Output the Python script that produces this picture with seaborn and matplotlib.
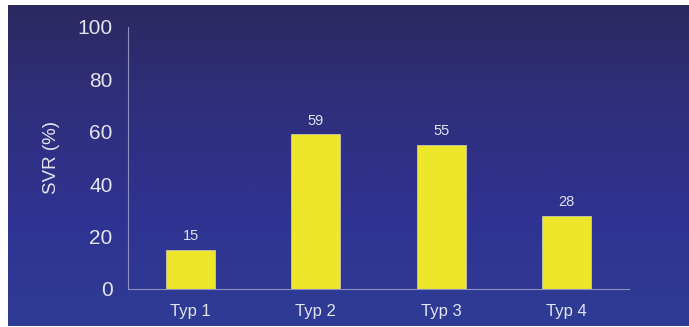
import numpy as np
import pandas as pd
import matplotlib
matplotlib.use("Agg")
import matplotlib.pyplot as plt
from matplotlib.colors import LinearSegmentedColormap
import seaborn as sns

categories = ["Typ 1", "Typ 2", "Typ 3", "Typ 4"]
svr_values = [15, 59, 55, 28]
y_ticks = [0, 20, 40, 60, 80, 100]

df = pd.DataFrame({"Typ": categories, "SVR": svr_values})

sns.set_theme(style="white")
plt.rcParams["font.family"] = ["Liberation Sans", "DejaVu Sans"]

W, H = 689, 327
fig = plt.figure(figsize=(W / 100, H / 100), dpi=100)
fig.patch.set_facecolor("white")

# Gradient backdrop: dark navy at the top, brighter blue toward the bottom
bg = fig.add_axes([8 / W, 1 / H, 1 - 8 / W, 1 - 6 / H])
grad_cmap = LinearSegmentedColormap.from_list(
    "slide", ["#2c2960", "#2f2f7e", "#2f3391", "#2e3c95"]
)
bg.imshow(np.linspace(0, 1, 256).reshape(-1, 1), aspect="auto", cmap=grad_cmap,
          extent=[0, 1, 1, 0])
bg.set_axis_off()

ax = fig.add_axes([128 / W, 1 - 289 / H, (629 - 128) / W, (289 - 27) / H])
ax.patch.set_alpha(0)

sns.barplot(data=df, x="Typ", y="SVR", ax=ax, color="#ede62a", width=0.39,
            saturation=1, edgecolor="#c8c8b0", linewidth=0.6)

for i, v in enumerate(svr_values):
    ax.text(i, v + 2.6, f"{v}", ha="center", va="bottom", fontsize=10.5,
            color="#e2e2ec")

ax.set_ylim(0, 100)
ax.set_xlim(-0.5, len(categories) - 0.5)
ax.set_yticks(y_ticks)
ax.set_yticklabels([str(t) for t in y_ticks], fontsize=15, color="#e4e4ee")
ax.set_xticks(range(len(categories)))
ax.set_xticklabels(categories, fontsize=12, color="#e4e4ee")
ax.set_xlabel("")
ax.set_ylabel("SVR (%)", fontsize=13.5, color="#e4e4ee", labelpad=13)

# Category separators on the x axis
ax.set_xticks(np.arange(-0.5, len(categories), 1.0), minor=True)
ax.tick_params(axis="x", which="major", length=0, pad=11)
ax.tick_params(axis="x", which="minor", length=5, width=0.8, color="#8e90c0",
               direction="out")
ax.tick_params(axis="y", length=5, width=0.8, color="#8e90c0", pad=6)

for side in ("top", "right"):
    ax.spines[side].set_visible(False)
for side in ("left", "bottom"):
    ax.spines[side].set_color("#8e90c0")
    ax.spines[side].set_linewidth(0.8)

fig.savefig("out.png", dpi=100, facecolor=fig.get_facecolor())
